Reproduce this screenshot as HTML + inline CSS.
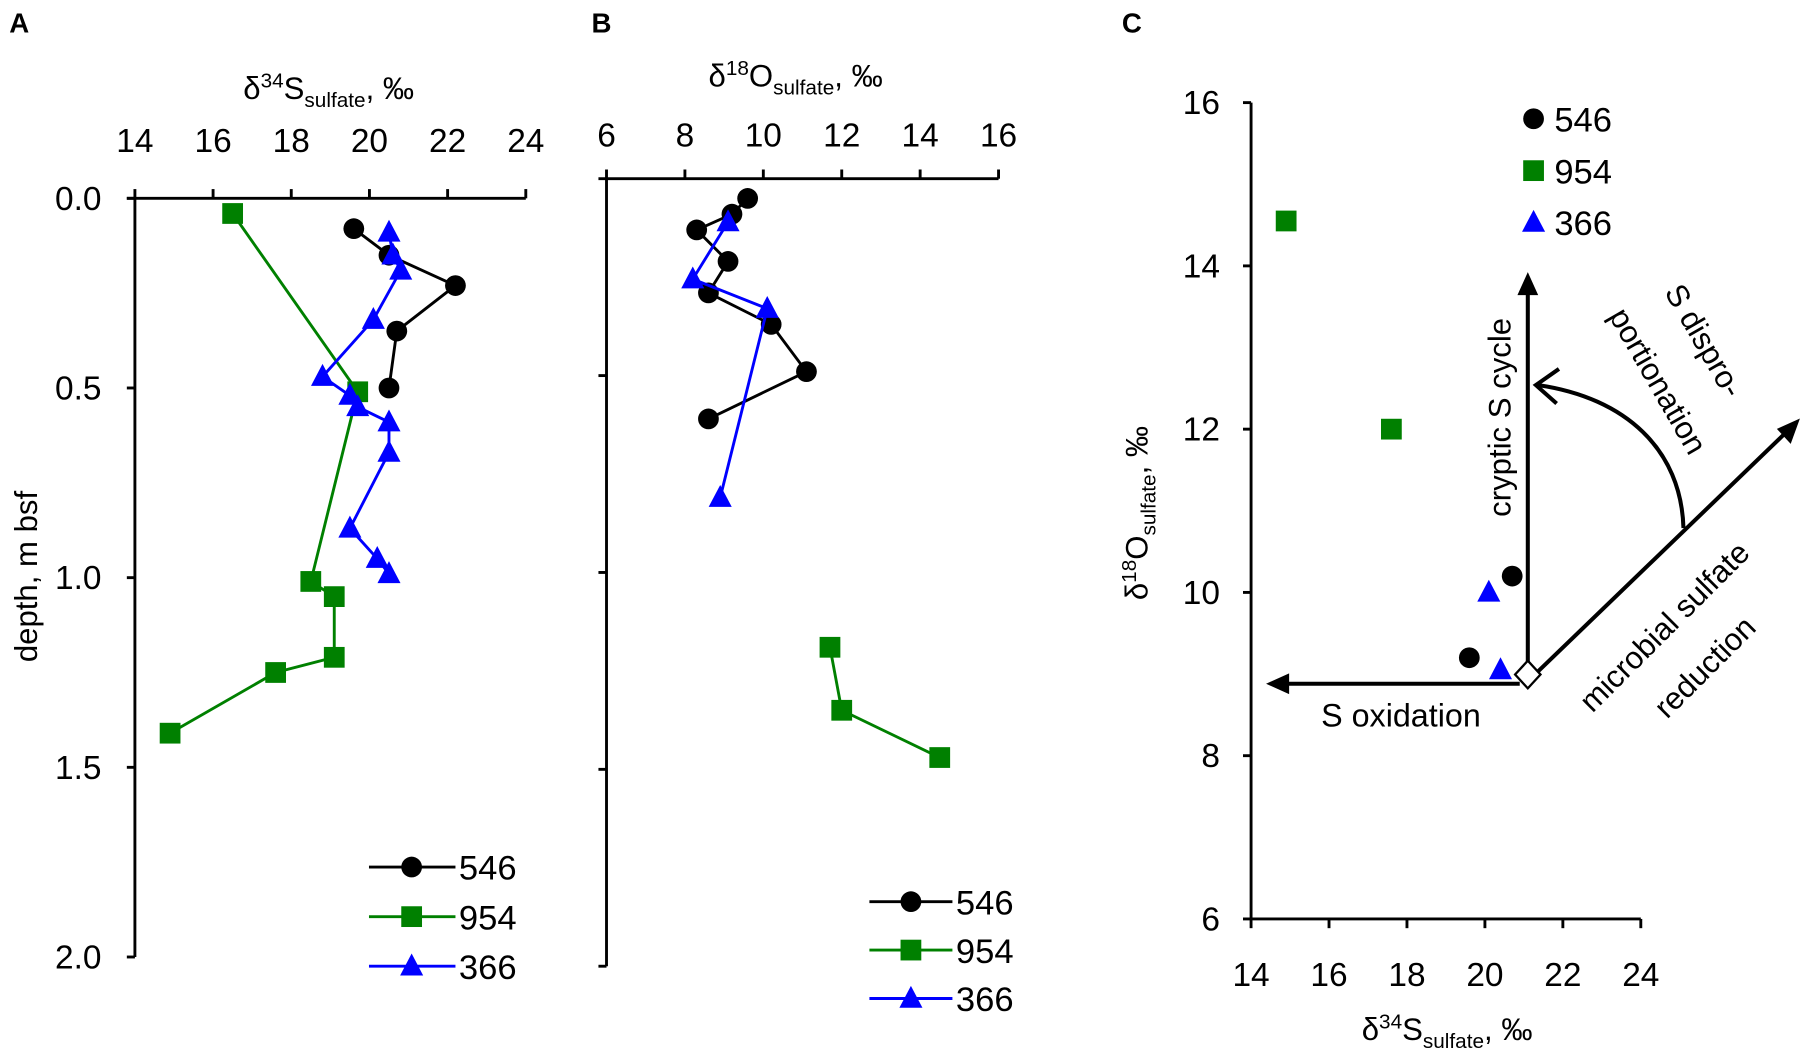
<!DOCTYPE html>
<html><head><meta charset="utf-8"><style>
html,body{margin:0;padding:0;background:#fff;}
svg{display:block;font-family:"Liberation Sans",sans-serif;}
</style></head><body>
<svg id="fig" width="1808" height="1055" viewBox="0 0 1568 915" preserveAspectRatio="none" xmlns="http://www.w3.org/2000/svg">
<text x="8" y="28" font-size="24" font-weight="bold">A</text>
<text x="513" y="28" font-size="24" font-weight="bold">B</text>
<text x="973" y="28" font-size="24" font-weight="bold">C</text>
<g id="g"></g>
</svg>
<script>
// Panel A data (d34S vs depth)
const aBlackX=[19.6,20.5,22.2,20.7,20.5];
const aBlackD=[0.08,0.15,0.23,0.35,0.5];
const aGreenX=[16.5,19.7,18.5,19.1,19.1,17.6,14.9];
const aGreenD=[0.04,0.51,1.01,1.05,1.21,1.25,1.41];
const aBlueX=[20.5,20.6,20.8,20.1,18.8,19.5,19.7,20.5,20.5,19.5,20.2,20.5];
const aBlueD=[0.09,0.15,0.19,0.32,0.47,0.52,0.55,0.59,0.67,0.87,0.95,0.99];
// Panel B data (d18O vs depth)
const bBlackX=[9.6,9.2,8.3,9.1,8.6,10.2,11.1,8.6];
const bBlackD=[0.05,0.09,0.13,0.21,0.29,0.37,0.49,0.61];
const bBlueX=[9.1,8.2,10.1,8.9];
const bBlueD=[0.11,0.255,0.33,0.81];
const bGreenX=[11.7,12.0,14.5];
const bGreenD=[1.19,1.35,1.47];
// Panel C data (d34S vs d18O)
const cBlackX=[20.7,19.6], cBlackY=[10.2,9.2];
const cGreenX=[14.9,17.6], cGreenY=[14.55,12.0];
const cBlueX=[20.1,20.4], cBlueY=[10.0,9.05];
const xTicksA=[14,16,18,20,22,24];
const yTicksA=["0.0","0.5","1.0","1.5","2.0"];
const xTicksB=[6,8,10,12,14,16];
const yTicksC=[6,8,10,12,14,16];
const legendNames=["546","954","366"];

const NS="http://www.w3.org/2000/svg";
const g=document.getElementById('g');
function el(tag,attrs,parent,name,txt){const e=document.createElementNS(NS,tag);for(const k in attrs)e.setAttribute(k,attrs[k]);


if(txt!==undefined)e.textContent=txt;(parent||g).appendChild(e);return e;}
function marker(type,x,y,name,s){s=s||1;
 if(type==='c')return el('circle',{cx:x,cy:y,r:9*s,fill:'#000'},g,name);
 if(type==='s')return el('rect',{x:x-9*s,y:y-9*s,width:18*s,height:18*s,fill:'#008000'},g,name);
 return el('polygon',{points:`${x},${y-11*s} ${x-10*s},${y+8*s} ${x+10*s},${y+8*s}`,fill:'#0000ff'},g,name);}
const col={c:'#000',s:'#008000',t:'#0000ff'};
function series(xs,ds,fx,fy,type,name,line){
 if(line){el('polyline',{points:xs.map((v,i)=>fx(v)+','+fy(ds[i])).join(' '),fill:'none',stroke:col[type],'stroke-width':2.5},g,name+'-line');}
 xs.forEach((v,i)=>marker(type,fx(v),fy(ds[i]),name+'-point'));}
const line=(x1,y1,x2,y2,name,w)=>el('line',{x1,y1,x2,y2,stroke:'#000','stroke-width':w||2.5},g,name);

// Panel A
const axA=v=>117+(v-14)*33.9, ayA=d=>172+d*329;
line(110,172,456,172,'a-x-axis');line(117,172,117,830,'a-y-axis');
xTicksA.forEach(v=>{line(axA(v),164,axA(v),172,'a-x-tick');el('text',{x:axA(v),y:132,'font-size':29,'text-anchor':'middle'},g,'a-x-tick-label',v);});
yTicksA.forEach(t=>{const y=ayA(+t);line(110,y,117,y,'a-y-tick');el('text',{x:88,y:y+10,'font-size':29,'text-anchor':'end'},g,'a-y-tick-label',t);});
el('text',{x:285,y:86,'font-size':27,'text-anchor':'middle'},g,'a-x-axis-title').innerHTML='δ<tspan dy="-10" font-size="18">34</tspan><tspan dy="10">S</tspan><tspan dy="7" font-size="18">sulfate</tspan><tspan dy="-7">, ‰</tspan>';
el('text',{x:0,y:0,'font-size':27,'text-anchor':'middle',transform:'translate(32,500) rotate(-90)'},g,'a-y-axis-title','depth, m bsf');
series(aGreenX,aGreenD,axA,ayA,'s','a-954',true);
series(aBlackX,aBlackD,axA,ayA,'c','a-546',true);
series(aBlueX,aBlueD,axA,ayA,'t','a-366',true);
['c','s','t'].forEach((t,i)=>{const y=752+i*43;el('line',{x1:320,y1:y,x2:395,y2:y,stroke:col[t],'stroke-width':2.5},g,'a-legend-line');marker(t,357,y,'a-legend-marker');el('text',{x:398,y:y+11,'font-size':30},g,'a-legend-label',legendNames[i]);});

// Panel B
const axB=v=>526+(v-6)*34, ayB=d=>155+d*341.5;
line(519,155,866,155,'b-x-axis');line(526,155,526,838,'b-y-axis');
xTicksB.forEach(v=>{line(axB(v),147,axB(v),155,'b-x-tick');el('text',{x:axB(v),y:127,'font-size':29,'text-anchor':'middle'},g,'b-x-tick-label',v);});
[0.5,1,1.5,2].forEach(d=>line(519,ayB(d),526,ayB(d),'b-y-tick'));
el('text',{x:690,y:75,'font-size':27,'text-anchor':'middle'},g,'b-x-axis-title').innerHTML='δ<tspan dy="-10" font-size="18">18</tspan><tspan dy="10">O</tspan><tspan dy="7" font-size="18">sulfate</tspan><tspan dy="-7">, ‰</tspan>';
series(bBlackX,bBlackD,axB,ayB,'c','b-546',true);
series(bBlueX,bBlueD,axB,ayB,'t','b-366',true);
series(bGreenX,bGreenD,axB,ayB,'s','b-954',true);
['c','s','t'].forEach((t,i)=>{const y=782+i*42;el('line',{x1:754,y1:y,x2:826,y2:y,stroke:col[t],'stroke-width':2.5},g,'b-legend-line');marker(t,790,y,'b-legend-marker');el('text',{x:829,y:y+11,'font-size':30},g,'b-legend-label',legendNames[i]);});

// Panel C
const axC=v=>1085+(v-14)*33.8, ayC=v=>797-(v-6)*70.8;
line(1085,89,1085,797,'c-y-axis');line(1085,797,1423,797,'c-x-axis');
xTicksA.forEach(v=>{line(axC(v),797,axC(v),805,'c-x-tick');el('text',{x:axC(v),y:855,'font-size':29,'text-anchor':'middle'},g,'c-x-tick-label',v);});
yTicksC.forEach(v=>{line(1078,ayC(v),1085,ayC(v),'c-y-tick');el('text',{x:1058,y:ayC(v)+10,'font-size':29,'text-anchor':'end'},g,'c-y-tick-label',v);});
el('text',{x:1255,y:902,'font-size':27,'text-anchor':'middle'},g,'c-x-axis-title').innerHTML='δ<tspan dy="-10" font-size="18">34</tspan><tspan dy="10">S</tspan><tspan dy="7" font-size="18">sulfate</tspan><tspan dy="-7">, ‰</tspan>';
el('text',{x:0,y:0,'font-size':27,'text-anchor':'middle',transform:'translate(995,445) rotate(-90)'},g,'c-y-axis-title').innerHTML='δ<tspan dy="-10" font-size="18">18</tspan><tspan dy="10">O</tspan><tspan dy="7" font-size="18">sulfate</tspan><tspan dy="-7">, ‰</tspan>';
series(cBlackX,cBlackY,axC,ayC,'c','c-546',false);
series(cGreenX,cGreenY,axC,ayC,'s','c-954',false);
series(cBlueX,cBlueY,axC,ayC,'t','c-366',false);
['c','s','t'].forEach((t,i)=>{const y=103+i*45;marker(t,1330,y,'c-legend-marker');el('text',{x:1348,y:y+11,'font-size':30},g,'c-legend-label',legendNames[i]);});
// arrows
line(1318,593,1112,593,'s-oxidation-arrow',3.5);
el('polygon',{points:'1098,593 1118,584 1118,602',fill:'#000'},g,'s-oxidation-arrowhead');
line(1325,585,1325,252,'cryptic-cycle-arrow',3.5);
el('polygon',{points:'1325,236 1316,256 1334,256',fill:'#000'},g,'cryptic-cycle-arrowhead');
line(1328,588,1550,374,'msr-arrow',3.5);
el('polygon',{points:'1561,363 1541,372 1553,385',fill:'#000'},g,'msr-arrowhead');
el('path',{d:'M1460,458 C1458,390 1410,345 1334,334',fill:'none',stroke:'#000','stroke-width':3.5},g,'disproportionation-arrow');
el('path',{d:'M1352,320 L1332,334 L1350,350',fill:'none',stroke:'#000','stroke-width':3.5},g,'disproportionation-arrowhead');
el('polygon',{points:'1325,573 1336,585 1325,597 1314,585',fill:'#fff',stroke:'#000','stroke-width':2},g,'origin-diamond');
el('text',{x:1215,y:630,'font-size':28,'text-anchor':'middle'},g,'s-oxidation-label','S oxidation');
el('text',{x:0,y:0,'font-size':27,'text-anchor':'middle',transform:'translate(1310,362) rotate(-90)'},g,'cryptic-cycle-label','cryptic S cycle');
el('text',{x:0,y:0,'font-size':27,'text-anchor':'middle',transform:'translate(1470,300) rotate(60)'},g,'disproportionation-label-1','S dispro-');
el('text',{x:0,y:0,'font-size':27,'text-anchor':'middle',transform:'translate(1430,335) rotate(60)'},g,'disproportionation-label-2','portionation');
el('text',{x:0,y:0,'font-size':27,'text-anchor':'middle',transform:'translate(1450,550) rotate(-45)'},g,'msr-label-1','microbial sulfate');
el('text',{x:0,y:0,'font-size':27,'text-anchor':'middle',transform:'translate(1485,585) rotate(-45)'},g,'msr-label-2','reduction');
</script>
</body></html>
